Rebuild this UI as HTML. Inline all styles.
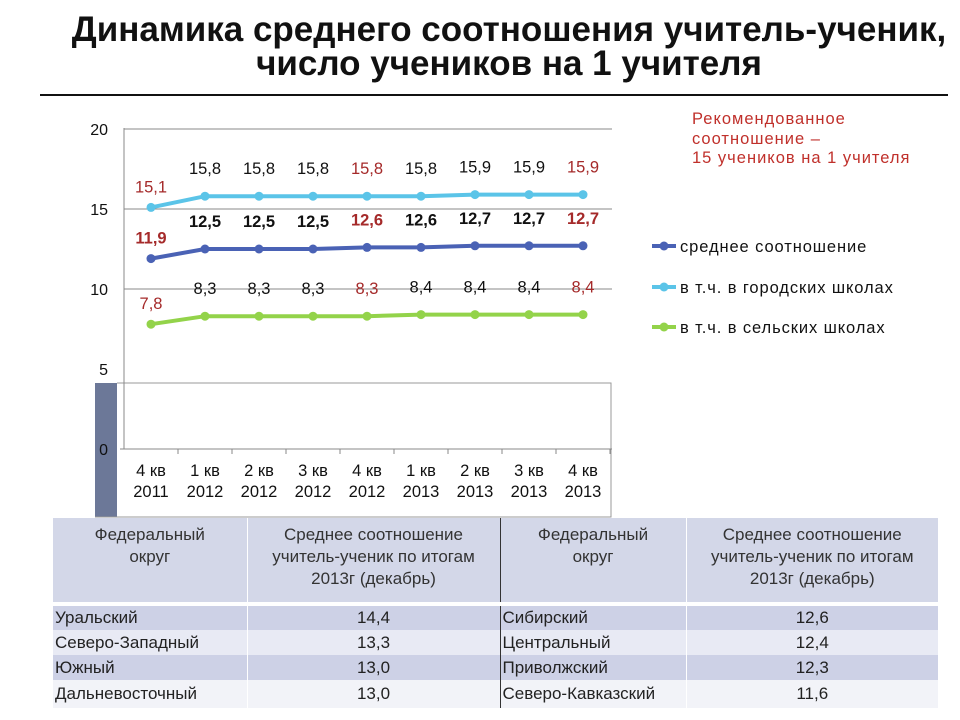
<!DOCTYPE html>
<html><head><meta charset="utf-8"><style>
body{margin:0;width:960px;height:720px;background:#fff;overflow:hidden;font-family:"Liberation Sans",sans-serif;position:relative}
.t{position:absolute;white-space:nowrap}
table{position:absolute;left:53px;top:518px;border-collapse:collapse;font-size:17px;color:#222;table-layout:fixed;width:885px}
td{padding:0 2px;overflow:hidden;white-space:nowrap}
</style></head><body>
<div class="t" style="left:0;width:1018px;text-align:center;top:13px;font-size:35px;font-weight:bold;line-height:34px;color:#111">Динамика среднего соотношения учитель-ученик,<br>число учеников на 1 учителя</div>
<div style="position:absolute;left:40px;top:94px;width:908px;height:2px;background:#111"></div>
<div class="t" style="left:692px;top:110px;font-size:16.5px;letter-spacing:1px;line-height:19.5px;color:#c0302b">Рекомендованное<br>соотношение –<br>15 учеников на 1 учителя</div>
<svg id="c" width="960" height="720" style="position:absolute;left:0;top:0"></svg>
<table>
<colgroup><col style="width:194px"><col style="width:253px"><col style="width:186px"><col style="width:252px"></colgroup>
<tr style="height:84px;background:#d3d7e8;text-align:center;vertical-align:top;color:#333">
<td style="padding-top:6px;line-height:22px">Федеральный<br>округ</td>
<td style="padding-top:6px;line-height:22px;border-left:1px solid #fff">Среднее соотношение<br>учитель-ученик по итогам<br>2013г (декабрь)</td>
<td style="padding-top:6px;line-height:22px;border-left:1px solid #333">Федеральный<br>округ</td>
<td style="padding-top:6px;line-height:22px;border-left:1px solid #fff">Среднее соотношение<br>учитель-ученик по итогам<br>2013г (декабрь)</td></tr>
<tr style="height:4px;background:#fff"><td colspan="4" style="padding:0"></td></tr>
<tr style="height:24px;background:#cdd1e6"><td>Уральский</td><td style="text-align:center;border-left:1px solid #fff">14,4</td><td style="border-left:1px solid #333">Сибирский</td><td style="text-align:center;border-left:1px solid #fff">12,6</td></tr>
<tr style="height:25px;background:#e8eaf4"><td>Северо-Западный</td><td style="text-align:center;border-left:1px solid #fff">13,3</td><td style="border-left:1px solid #333">Центральный</td><td style="text-align:center;border-left:1px solid #fff">12,4</td></tr>
<tr style="height:25px;background:#cdd1e6"><td>Южный</td><td style="text-align:center;border-left:1px solid #fff">13,0</td><td style="border-left:1px solid #333">Приволжский</td><td style="text-align:center;border-left:1px solid #fff">12,3</td></tr>
<tr style="height:28px;background:#f2f3f8"><td>Дальневосточный</td><td style="text-align:center;border-left:1px solid #fff">13,0</td><td style="border-left:1px solid #333">Северо-Кавказский</td><td style="text-align:center;border-left:1px solid #fff">11,6</td></tr>
</table>
<script>
const categories=["4 кв|2011","1 кв|2012","2 кв|2012","3 кв|2012","4 кв|2012","1 кв|2013","2 кв|2013","3 кв|2013","4 кв|2013"];
const avgValues=[11.9,12.5,12.5,12.5,12.6,12.6,12.7,12.7,12.7];
const urbanValues=[15.1,15.8,15.8,15.8,15.8,15.8,15.9,15.9,15.9];
const ruralValues=[7.8,8.3,8.3,8.3,8.3,8.4,8.4,8.4,8.4];
const yTicks=[0,5,10,15,20];
const seriesNames=["среднее соотношение","в т.ч. в городских школах","в т.ч. в сельских школах"];
const svg=document.getElementById('c');const NS="http://www.w3.org/2000/svg";
const X0=124,STEP=54,Y0=449,K=16;
const xs=i=>X0+STEP*(i+0.5), ys=v=>Y0-v*K;
function mk(t,a,p){const e=document.createElementNS(NS,t);for(const k in a)e.setAttribute(k,a[k]);(p||svg).appendChild(e);return e;}
let e=mk('rect',{x:95,y:383,width:22,height:134,fill:'#6c7898'});


e=mk('path',{d:'M117 383H611V517H95',fill:'none',stroke:'#999','stroke-width':1});


yTicks.forEach(v=>{
 if(v>0&&v!==5){e=mk('line',{x1:X0,x2:612,y1:ys(v),y2:ys(v),stroke:'#888','stroke-width':1});
 
 }
 e=mk('text',{x:108,y:ys(v)+6,'text-anchor':'end','font-size':16,fill:'#111'});e.textContent=v;
 
 
});
e=mk('line',{x1:X0,x2:X0,y1:128,y2:Y0,stroke:'#888'});


e=mk('line',{x1:X0-4,x2:612,y1:Y0,y2:Y0,stroke:'#888'});


categories.forEach((c,i)=>{
 const xt=X0+STEP*(i+1);
 e=mk('line',{x1:xt,x2:xt,y1:Y0,y2:Y0+5,stroke:'#888'});
 
 
 const p=c.split('|');
 e=mk('text',{x:xs(i),y:476,'text-anchor':'middle','font-size':16.5,fill:'#111'});e.textContent=p[0];
 
 
 e=mk('text',{x:xs(i),y:497,'text-anchor':'middle','font-size':16.5,fill:'#111'});e.textContent=p[1];
 
 
});
const series=[[urbanValues,'#5bc4e8','urban',false],[avgValues,'#4a62b5','average',true],[ruralValues,'#93d34a','rural',false]];
series.forEach(([vals,col,nm,bold])=>{
 e=mk('polyline',{points:vals.map((v,i)=>xs(i)+','+ys(v)).join(' '),fill:'none',stroke:col,'stroke-width':4});
 
 
 vals.forEach((v,i)=>{
  e=mk('circle',{cx:xs(i),cy:ys(v),r:4.5,fill:col});
  
  
  const red=(i===0||i===4||i===8);
  const dy=i===0?-15:-22;
  e=mk('text',{x:xs(i),y:ys(v)+dy,'text-anchor':'middle','font-size':16.5,'font-weight':bold?'bold':'normal',fill:red?'#a52a2a':'#111'});
  e.textContent=v.toFixed(1).replace('.',',');
  
  
 });
});
[['#4a62b5',246],['#5bc4e8',287],['#93d34a',327]].forEach(([col,y],i)=>{
 e=mk('line',{x1:652,x2:676,y1:y,y2:y,stroke:col,'stroke-width':4});
 
 
 e=mk('circle',{cx:664,cy:y,r:4.5,fill:col});
 
 
 e=mk('text',{x:680,y:y+6,'font-size':16.5,'letter-spacing':0.9,fill:'#111'});e.textContent=seriesNames[i];
 
 
});
</script>
</body></html>
